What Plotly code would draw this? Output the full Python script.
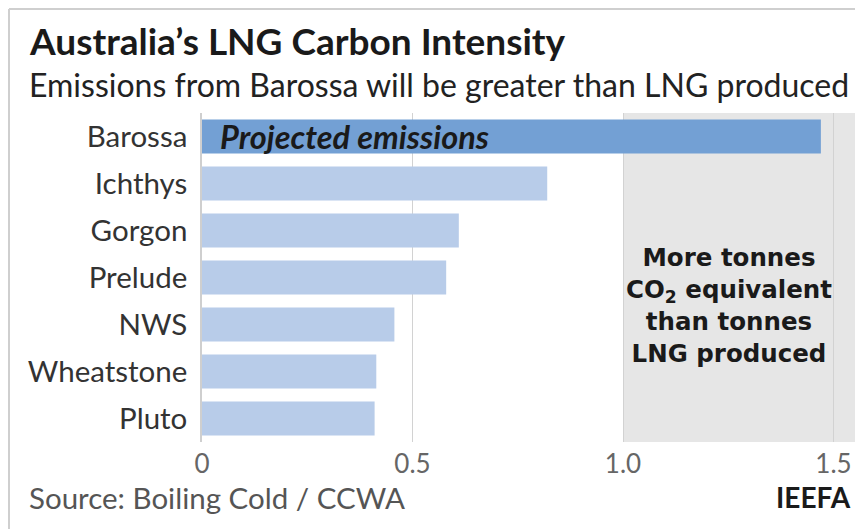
import plotly.graph_objects as go

# ---- data ----
projects = ["Barossa", "Ichthys", "Gorgon", "Prelude", "NWS", "Wheatstone", "Pluto"]
intensity = [1.47, 0.82, 0.61, 0.58, 0.457, 0.414, 0.41]
bar_colors = ["#73a0d4", "#b8cce9", "#b8cce9", "#b8cce9", "#b8cce9", "#b8cce9", "#b8cce9"]
tick_vals = [0, 0.5, 1.0, 1.5]
tick_text = ["0", "0.5", "1.0", "1.5"]
threshold = 1.0

title = "Australia’s LNG Carbon Intensity"
subtitle = "Emissions from Barossa will be greater than LNG produced"
source = "Source: Boiling Cold / CCWA"
brand = "IEEFA"
bar_note = "Projected emissions"
region_lines = ["More tonnes", "CO<sub>2</sub> equivalent", "than tonnes", "LNG produced"]

# page body has an 8px default margin, so the figure is drawn offset by 8px
OFF = 8
W, H = 863 - OFF, 529 - OFF
L = 202 - OFF
R = W - (858 - OFF)
T = 113 - OFF
B = H - (441.7 - OFF)
pw = W - L - R
ph = H - T - B
px_per_unit = 421.0
xmax = pw / px_per_unit

def px(x):
    return (x - OFF - L) / pw

def py(y):
    return (H - B - (y - OFF)) / ph

FONT = "Lato"

fig = go.Figure()
fig.add_trace(go.Bar(
    x=intensity, y=projects, orientation="h",
    marker=dict(color=bar_colors, line=dict(width=0)),
    width=0.72, hoverinfo="x+y",
))

fig.update_layout(
    width=W, height=H,
    margin=dict(l=L, r=R, t=T, b=B),
    paper_bgcolor="white", plot_bgcolor="white",
    showlegend=False,
    font=dict(family=FONT, color="#333"),
    xaxis=dict(range=[0, xmax], tickvals=tick_vals, ticktext=tick_text,
               showgrid=True, gridcolor="#d2d2d2", gridwidth=1,
               zeroline=False, showline=False, ticks="",
               tickfont=dict(size=26, color="#666", family=FONT),
               ticklabelstandoff=4, fixedrange=True),
    yaxis=dict(autorange="reversed", showgrid=False, zeroline=False,
               showline=True, linecolor="#cfcfcf", linewidth=1.5, ticks="",
               tickfont=dict(size=29.5, color="#333", family=FONT),
               ticklabelstandoff=7, fixedrange=True),
    bargap=0.28,
)

shapes = [
    dict(type="rect", xref="x", yref="paper", x0=threshold, x1=xmax, y0=0, y1=1,
         fillcolor="#e6e6e6", line=dict(width=0), layer="below"),
    # frame lines
    dict(type="line", xref="paper", yref="paper", x0=px(9), x1=px(9), y0=py(9), y1=py(529),
         line=dict(color="#cfcfcf", width=2)),
    dict(type="line", xref="paper", yref="paper", x0=px(9), x1=px(863), y0=py(9), y1=py(9),
         line=dict(color="#cfcfcf", width=2)),
]
fig.update_layout(shapes=shapes)

annotations = [
    dict(text="<b>" + title + "</b>", xref="paper", yref="paper", x=px(27), y=py(41),
         xanchor="left", yanchor="middle", showarrow=False,
         font=dict(size=37, color="#1a1a1a", family=FONT)),
    dict(text=subtitle, xref="paper", yref="paper", x=px(27), y=py(85),
         xanchor="left", yanchor="middle", showarrow=False,
         font=dict(size=32, color="#222", family=FONT)),
    dict(text="<b><i>" + bar_note + "</i></b>", xref="paper", yref="y", x=px(218), y=projects[0],
         xanchor="left", yanchor="middle", showarrow=False,
         font=dict(size=32.5, color="#1a1a1a", family=FONT)),
    dict(text=source, xref="paper", yref="paper", x=px(27), y=py(497),
         xanchor="left", yanchor="middle", showarrow=False,
         font=dict(size=29.5, color="#555", family=FONT)),
    dict(text="<b>" + brand + "</b>", xref="paper", yref="paper", x=px(853), y=py(497),
         xanchor="right", yanchor="middle", showarrow=False,
         font=dict(size=28, color="#1a1a1a", family=FONT)),
    dict(text="<b>" + "<br>".join(region_lines) + "</b>", xref="paper", yref="paper",
         x=px(729), y=py(305), xanchor="center", yanchor="middle", align="center",
         showarrow=False, font=dict(size=24.5, color="#1a1a1a", family="DejaVu Sans")),
]
fig.update_layout(annotations=annotations)

fig.write_html("out.html")
